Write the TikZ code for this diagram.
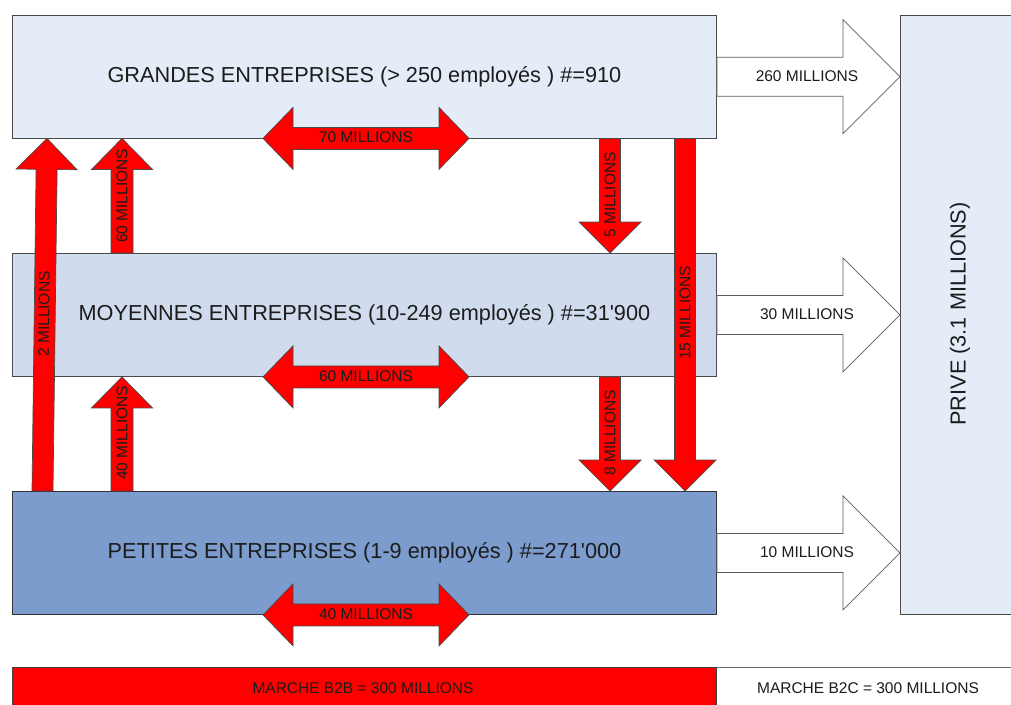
\documentclass[tikz,border=0pt]{standalone}
\usepackage{fontspec}
\setmainfont{Liberation Sans}
\usetikzlibrary{calc}

\definecolor{gBlue}{HTML}{E4ECF7}
\definecolor{mBlue}{HTML}{D0DCEE}
\definecolor{pBlue}{HTML}{7B9CCD}
\definecolor{edgegray}{HTML}{4A4A4A}
\definecolor{flowred}{HTML}{FF0000}
\definecolor{inkdark}{HTML}{1C1C1C}

% straight block arrow: style, start, tip, half shaft, half head, head length
\newcommand\blockarrow[6]{%
  \coordinate (ba-h) at ($(#3)!#6pt!(#2)$);
  \draw[#1] ($(#2)!#4pt!90:(#3)$) -- ($(ba-h)!#4pt!90:(#3)$) -- ($(ba-h)!#5pt!90:(#3)$)
    -- (#3) -- ($(ba-h)!#5pt!-90:(#3)$) -- ($(ba-h)!#4pt!-90:(#3)$)
    -- ($(#2)!#4pt!-90:(#3)$) -- cycle;
}
% two-headed block arrow: style, tip one, tip two, half shaft, half head, head length
\newcommand\doublearrow[6]{%
  \coordinate (da-a) at ($(#2)!#6pt!(#3)$);
  \coordinate (da-b) at ($(#3)!#6pt!(#2)$);
  \draw[#1] (#2) -- ($(da-a)!#5pt!90:(#3)$) -- ($(da-a)!#4pt!90:(#3)$)
    -- ($(da-b)!#4pt!-90:(#2)$) -- ($(da-b)!#5pt!-90:(#2)$) -- (#3)
    -- ($(da-b)!#5pt!90:(#2)$) -- ($(da-b)!#4pt!90:(#2)$)
    -- ($(da-a)!#4pt!-90:(#3)$) -- ($(da-a)!#5pt!-90:(#3)$) -- cycle;
}

\tikzset{
  box/.style={draw=edgegray, line width=0.9pt, anchor=north west, inner sep=0pt,
    minimum width=704pt, minimum height=123pt, text=inkdark,
    font=\fontsize{21.7}{26}\selectfont},
  flow/.style={fill=flowred, draw=edgegray, line width=0.7pt, line join=miter},
  openflow/.style={fill=white, draw=edgegray!90, line width=0.7pt},
  lbl/.style={inner sep=0pt, text=inkdark, font=\fontsize{15.5}{18}\selectfont},
  biglbl/.style={inner sep=0pt, text=inkdark, font=\fontsize{21.7}{26}\selectfont},
}

\begin{document}
\begin{tikzpicture}[x=1pt, y=-1pt]
\useasboundingbox (0,0) rectangle (1011,704);
\clip (0,0) rectangle (1011,704);
\fill[white] (0,0) rectangle (1011,704);

% company size classes
\node[box, fill=gBlue, minimum height=122.5pt] (grandes) at (12,15)
  {GRANDES ENTREPRISES (> 250 employés ) \#=910};
\node[box, fill=mBlue] (moyennes) at (12,253)
  {MOYENNES ENTREPRISES (10-249 employés ) \#=31\textquotesingle900};
\node[box, fill=pBlue, draw=black!80] (petites) at (12,491)
  {PETITES ENTREPRISES (1-9 employés ) \#=271\textquotesingle000};

% private customers
\node[box, fill=gBlue, minimum width=120pt, minimum height=599pt] (prive) at (900,15) {};
\node[biglbl, rotate=90] (privelbl) at (960,314) {PRIVE (3.1 MILLIONS)};

% market totals
\node[box, fill=white, draw=edgegray!80, minimum width=320pt, minimum height=60pt] (b2c) at (716,667) {};
\node[box, fill=flowred, draw=black!75, minimum height=60pt] (b2b) at (12,667) {};
\node[lbl] (b2clbl) at (868,688) {MARCHE B2C = 300 MILLIONS};
\node[lbl] (b2blbl) at (363,688) {MARCHE B2B = 300 MILLIONS};

% flows to private customers
\coordinate (o1s) at (grandes.east);  \coordinate (o1t) at (grandes.east -| prive.west);
\coordinate (o2s) at (moyennes.east); \coordinate (o2t) at (moyennes.east -| prive.west);
\coordinate (o3s) at (petites.east);  \coordinate (o3t) at (petites.east -| prive.west);
\blockarrow{openflow}{o1s}{o1t}{19.5}{57}{57}
\blockarrow{openflow}{o2s}{o2t}{19.5}{57}{57}
\blockarrow{openflow}{o3s}{o3t}{19.5}{57}{57}
\node[lbl] (l260) at (807,76) {260 MILLIONS};
\node[lbl] (l30) at (807,314.5) {30 MILLIONS};
\node[lbl] (l10) at (807,552.5) {10 MILLIONS};

% upward flows
\coordinate (u60s) at ($(moyennes.north west)+(110,0)$);
\coordinate (u60t) at ($(grandes.south west)+(110,0)$);
\coordinate (u40s) at ($(petites.north west)+(110,0)$);
\coordinate (u40t) at ($(moyennes.south west)+(110,0)$);
\coordinate (u2s)  at ($(petites.north west)+(30.5,0)$);
\coordinate (u2t)  at ($(grandes.south west)+(35,0)$);
\blockarrow{flow}{u60s}{u60t}{11}{30.5}{31}
\blockarrow{flow}{u40s}{u40t}{11}{30.5}{31}
\blockarrow{flow}{u2s}{u2t}{10.5}{30.5}{31}
\node[lbl, rotate=90] (l60u) at (122,196) {60 MILLIONS};
\node[lbl, rotate=90] (l40u) at (122,433) {40 MILLIONS};
\node[lbl, rotate=89.3] (l2u) at (44,314) {2 MILLIONS};

% downward flows
\coordinate (d5s)  at ($(grandes.south west)+(598,0)$);
\coordinate (d5t)  at ($(moyennes.north west)+(598,0)$);
\coordinate (d8s)  at ($(moyennes.south west)+(598,0)$);
\coordinate (d8t)  at ($(petites.north west)+(598,0)$);
\coordinate (d15s) at ($(grandes.south west)+(673,0)$);
\coordinate (d15t) at ($(petites.north west)+(673,0)$);
\blockarrow{flow}{d5s}{d5t}{10.5}{31}{31}
\blockarrow{flow}{d8s}{d8t}{10.5}{31}{31}
\blockarrow{flow}{d15s}{d15t}{10.5}{31}{31}
\node[lbl, rotate=90] (l5d) at (610,195) {5 MILLIONS};
\node[lbl, rotate=90] (l8d) at (610,433) {8 MILLIONS};
\node[lbl, rotate=90] (l15d) at (685,313) {15 MILLIONS};

% exchanges within each class
\coordinate (h1a) at ($(grandes.south west)+(251,0)$);  \coordinate (h1b) at ($(grandes.south west)+(457,0)$);
\coordinate (h2a) at ($(moyennes.south west)+(251,0)$); \coordinate (h2b) at ($(moyennes.south west)+(457,0)$);
\coordinate (h3a) at ($(petites.south west)+(251,0)$);  \coordinate (h3b) at ($(petites.south west)+(457,0)$);
\doublearrow{flow}{h1a}{h1b}{11}{31}{30}
\doublearrow{flow}{h2a}{h2b}{11}{31}{30}
\doublearrow{flow}{h3a}{h3b}{11}{31}{30}
\node[lbl] (l70h) at (366,137.5) {70 MILLIONS};
\node[lbl] (l60h) at (366,376) {60 MILLIONS};
\node[lbl] (l40h) at (366,614) {40 MILLIONS};
\end{tikzpicture}
\end{document}
